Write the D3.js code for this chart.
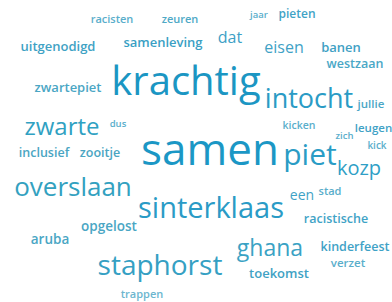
<!DOCTYPE html>
<html>
<head>
<meta charset="utf-8">
<script src="https://cdn.jsdelivr.net/npm/d3@7"></script>
<style>
  body { margin: 0; background: #fff; }
  svg text { font-family: "Open Sans", sans-serif; }
</style>
</head>
<body>
<div id="cloudDiv"></div>
<script>
// words and their weight (font size in px)
var words = ["racisten", "zeuren", "jaar", "pieten", "uitgenodigd", "samenleving", "dat", "eisen", "banen",
  "westzaan", "zwartepiet", "krachtig", "intocht", "jullie", "zwarte", "dus", "inclusief", "zooitje",
  "samen", "kicken", "zich", "leugen", "kick", "piet", "kozp", "overslaan", "sinterklaas", "een", "stad",
  "racistische", "opgelost", "aruba", "ghana", "kinderfeest", "staphorst", "toekomst", "verzet", "trappen"];
var weights = [11, 11, 9.5, 12, 13, 13, 16, 16, 13,
  12.5, 13, 40, 27, 11.5, 24, 9.5, 12.5, 12.5,
  44, 10.5, 9.5, 11.5, 10, 30, 20, 26, 29, 14, 11,
  12.5, 13.5, 13.5, 23, 12.5, 28, 13, 11.5, 11];
// layout of the cloud (centre x, baseline y)
var layoutX = [112, 180, 259, 297, 58, 163, 230, 284, 341,
  355, 68, 186, 309, 371, 62, 118, 44, 100,
  210, 299, 344.5, 373.5, 377, 310, 359, 73, 211, 302, 330,
  336, 109, 50, 270, 355, 160, 279, 348, 142];
var layoutY = [23, 23, 18, 18, 51, 47, 43, 53, 52,
  68, 92, 95, 108, 108, 135, 127, 157, 157,
  165, 129, 139, 132, 149, 165, 175, 196, 218, 200, 195,
  223, 231, 244, 256, 251, 275, 278, 267, 298];
var shades = ["#5aaecb", "#4fa9c6", "#5aaecb", "#3fa3c6", "#3fa2c4", "#3a9fc4", "#3d9fc6", "#3fa2c6", "#3fa1c4",
  "#4aa7c6", "#4aa6c4", "#1b96c3", "#2a9bc5", "#4aa7c6", "#2fa1c2", "#5aaecb", "#4aa5c2", "#4aa5c2",
  "#1b97c5", "#5aaecb", "#5aaecb", "#3fa2c6", "#5aaecb", "#2a9cc5", "#2f9fc6", "#33a1c0", "#2a9bc6", "#3fa2c6", "#5aaecb",
  "#3fa3c6", "#4aa6c4", "#4aa6c4", "#3aa2c4", "#3fa2c6", "#35a0c3", "#3fa2c4", "#5aaecb", "#6cb6cf"];

var width = 392, height = 302;
var svg = d3.select("#cloudDiv").append("svg").attr("width", width).attr("height", height);

var x = d3.scaleLinear().domain([0, 392]).range([0, width]);
var y = d3.scaleLinear().domain([0, 302]).range([0, height]);

var data = words.map(function (w, i) {
  return {text: w, size: weights[i], x: layoutX[i], y: layoutY[i], color: shades[i]};
});

svg.selectAll("text.word")
  .data(data)
  .enter().append("text")
  .attr("class", "word")
  .attr("x", function (d) { return x(d.x); })
  .attr("y", function (d) { return y(d.y); })
  .attr("text-anchor", "middle")
  .style("font-size", function (d) { return d.size + "px"; })
  .style("font-weight", function (d) { return d.size < 14 ? 600 : 400; })
  .style("fill", function (d) { return d.color; })
  .text(function (d) { return d.text; });
</script>
</body>
</html>
